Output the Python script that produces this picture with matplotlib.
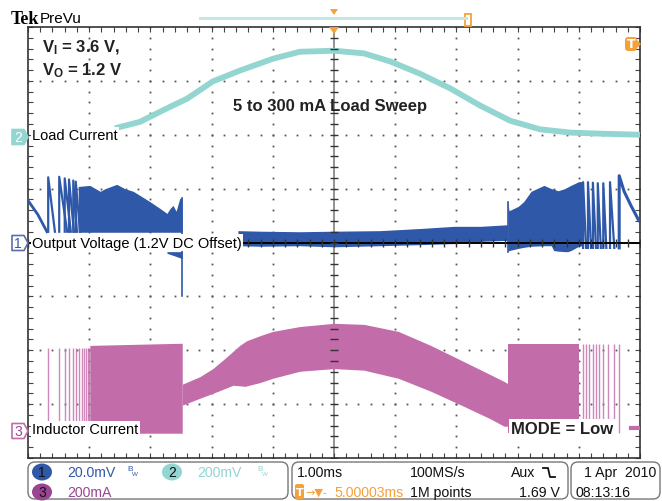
import numpy as np
import matplotlib.pyplot as plt
from matplotlib.patches import FancyBboxPatch, Ellipse, Polygon, Rectangle

plt.rcParams['mathtext.fontset'] = 'custom'
plt.rcParams['mathtext.bf'] = 'Liberation Sans:bold'
plt.rcParams['mathtext.rm'] = 'Liberation Sans'

BLUE = '#2f59a8'
CYAN = '#93d5d1'
PINK = '#c26ca9'
PURPLE = '#9b4492'
ORANGE = '#f5a13a'
SCOPE = ['Liberation Sans', 'DejaVu Sans']

# time in ms (1 ms/div, trigger at centre), levels in divisions
# ch2 - load current
load_t = [-3.58, -3.17, -2.73, -2.40, -1.98, -1.54, -1.00, -0.56, 0.0, 0.49,
          0.92, 1.41, 1.90, 2.39, 2.88, 3.37, 3.86, 4.35, 5.0]
load_y = [2.12, 2.24, 2.49, 2.67, 2.99, 3.19, 3.41, 3.54, 3.56, 3.51,
          3.36, 3.13, 2.86, 2.54, 2.26, 2.10, 2.04, 2.02, 2.00]

# ch1 - output voltage
vo_decay_t = [-5.0, -4.84, -4.69]
vo_decay_y = [0.78, 0.52, 0.20]
vo_teeth_l_start = [-4.67, -4.49, -4.40, -4.33, -4.26, -4.22]
vo_teeth_l_end = [-4.56, -4.36, -4.30, -4.25, -4.20, -4.15]
vo_teeth_l_peak = [1.21, 1.22, 1.19, 1.17, 1.15, 1.13]
vo_burst_l_t = [-4.18, -3.99, -3.82, -3.74, -3.55, -3.42, -3.28, -3.01, -2.84,
                -2.73, -2.68, -2.63, -2.58, -2.52, -2.48]
vo_burst_l_top = [1.04, 1.06, 0.95, 1.00, 1.08, 1.00, 0.95, 0.76, 0.63,
                  0.54, 0.63, 0.69, 0.58, 0.82, 0.83]
vo_burst_l_bot = [0.19] * 15
vo_dip_t = [-2.73, -2.60, -2.48]
vo_dip_top = [-0.17, -0.17, -0.17]
vo_dip_bot = [-0.20, -0.25, -0.30]
vo_mid_t = [-1.57, -1.20, -0.56, 0.0, 0.75, 1.41, 1.96, 2.39, 2.84]
vo_mid_top = [0.22, 0.21, 0.20, 0.21, 0.22, 0.26, 0.30, 0.30, 0.33]
vo_mid_bot = [-0.06, -0.07, -0.06, -0.08, -0.06, -0.04, -0.02, 0.02, 0.04]
vo_burst_r_t = [2.84, 2.86, 3.01, 3.10, 3.22, 3.43, 3.55, 3.59, 3.66, 3.77,
                3.82, 3.87, 4.00, 4.07]
vo_burst_r_top = [0.76, 0.59, 0.67, 0.76, 0.95, 1.06, 1.00, 0.99, 0.96, 1.00,
                  1.03, 1.06, 1.13, 1.13]
vo_burst_r_bot = [-0.17, -0.15, -0.11, -0.09, -0.07, -0.06, -0.06, -0.15, -0.16, -0.17,
                  -0.17, -0.15, -0.07, -0.06]
vo_teeth_r_start = [4.07, 4.15, 4.23, 4.31, 4.40, 4.51]
vo_teeth_r_end = [4.12, 4.20, 4.28, 4.36, 4.45, 4.58]
vo_teeth_r_peak = [1.12, 1.12, 1.11, 1.10, 1.10, 1.12]
vo_tail_t = [4.66, 4.66, 4.74, 4.85, 4.98]
vo_tail_y = [-0.10, 1.24, 0.95, 0.69, 0.41]

# ch3 - inductor current
il_lines_l = [-4.67, -4.49, -4.40, -4.33, -4.26, -4.22, -4.17, -4.12, -4.08, -4.05, -4.02, -4.00]
il_block_l_t = [-3.99, -2.48]
il_block_l_top = [-1.91, -1.87]
il_band_t = [-2.48, -2.19, -1.98, -1.78, -1.65, -1.54, -1.45, -1.42, -1.21, -1.00, -0.56,
             0.0, 0.49, 1.05, 1.58, 2.12, 2.55, 2.78, 2.84]
il_band_top = [-2.63, -2.49, -2.34, -2.15, -2.02, -1.91, -1.84, -1.82, -1.73, -1.65, -1.56,
               -1.50, -1.52, -1.65, -1.91, -2.21, -2.45, -2.58, -2.62]
il_band_bot = [-3.02, -2.89, -2.80, -2.71, -2.65, -2.66, -2.67, -2.66, -2.60, -2.52, -2.39,
               -2.34, -2.37, -2.52, -2.76, -3.04, -3.27, -3.41, -3.41]
il_block_r_t = [2.84, 4.00]
il_block_r_top = [-1.89, -1.89]
il_lines_r = [4.07, 4.12, 4.17, 4.23, 4.28, 4.33, 4.40, 4.48, 4.58, 4.66]
il_floor = -3.54
il_zero_t = [4.85, 4.98]
il_zero_y = [-3.45, -3.45]

fig = plt.figure(figsize=(6.62, 5.02), dpi=100)
ax = fig.add_axes([28 / 662, 1 - 459 / 502, 612 / 662, 431 / 502])
ax.set_xlim(-5, 5)
ax.set_ylim(-4, 4)
ax.set_xticks(np.arange(-5, 6, 1))
ax.set_yticks(np.arange(-4, 5, 1))
ax.set_xticks(np.arange(-5, 5.01, 0.2), minor=True)
ax.set_yticks(np.arange(-4, 4.01, 0.2), minor=True)
ax.tick_params(which='both', direction='in', top=True, right=True,
               labelbottom=False, labelleft=False, length=3.5, width=0.8, color='#444')
for s in ax.spines.values():
    s.set_color('#333')
    s.set_linewidth(1.2)

# graticule dots
minor_x = np.arange(-5, 5.01, 0.2)
minor_y = np.arange(-4, 4.01, 0.2)
for gx in range(-4, 5):
    if gx != 0:
        ax.plot(np.full_like(minor_y, gx), minor_y, ls='none', marker='s', ms=1.3,
                mec='none', color='#555', zorder=1)
for gy in range(-3, 4):
    if gy != 0:
        ax.plot(minor_x, np.full_like(minor_x, gy), ls='none', marker='s', ms=1.3,
                mec='none', color='#555', zorder=1)
ax.axvline(0, color='#8a8a8a', lw=1.3, zorder=1)
ax.plot(np.zeros_like(minor_y), minor_y, ls='none', marker='_', ms=6, color='#333', zorder=5)
ax.axhline(0, color='black', lw=1.4, zorder=4)
ax.plot(minor_x, np.zeros_like(minor_x), ls='none', marker='|', ms=6, color='#333', zorder=5)

# ch2
ax.plot(load_t, load_y, color=CYAN, lw=4.2, solid_capstyle='butt', zorder=3)

# ch1
ax.plot(vo_decay_t, vo_decay_y, color=BLUE, lw=2, zorder=3)
for s, e, p in zip(vo_teeth_l_start, vo_teeth_l_end, vo_teeth_l_peak):
    ax.plot([s, s, e], [0.20, p, 0.20], color=BLUE, lw=1.6, zorder=3)
ax.fill_between(vo_burst_l_t, vo_burst_l_bot, vo_burst_l_top, color=BLUE, lw=0, zorder=3)
ax.fill_between(vo_dip_t, vo_dip_bot, vo_dip_top, color=BLUE, lw=0, zorder=3)
ax.plot([-2.48, -2.48], [0.83, -1.0], color=BLUE, lw=1.2, zorder=3)
ax.fill_between(vo_mid_t, vo_mid_bot, vo_mid_top, color=BLUE, lw=0, zorder=3)
ax.fill_between(vo_burst_r_t, vo_burst_r_bot, vo_burst_r_top, color=BLUE, lw=0, zorder=3)
ax.plot([2.84, 2.84], [-0.17, 0.76], color=BLUE, lw=1.2, zorder=3)
for s, e, p in zip(vo_teeth_r_start, vo_teeth_r_end, vo_teeth_r_peak):
    ax.plot([s, s, e], [-0.10, p, -0.10], color=BLUE, lw=1.6, zorder=3)
ax.plot(vo_tail_t, vo_tail_y, color=BLUE, lw=2.2, zorder=3)

# ch3
ax.vlines(il_lines_l, il_floor, -1.95, color=PINK, lw=1.0, alpha=0.8, zorder=3)
ax.fill_between(il_block_l_t, il_floor, il_block_l_top, color=PINK, lw=0, zorder=3)
ax.fill_between(il_band_t, il_band_bot, il_band_top, color=PINK, lw=0, zorder=3)
ax.fill_between(il_block_r_t, il_floor, il_block_r_top, color=PINK, lw=0, zorder=3)
ax.vlines(il_lines_r, il_floor, -1.89, color=PINK, lw=1.0, alpha=0.8, zorder=3)
ax.plot(il_zero_t, il_zero_y, color=PINK, lw=3, zorder=3)

# trace labels
lab_box = dict(fc='white', ec='none', pad=1.0)
ax.text(-4.93, 1.99, 'Load Current', family=SCOPE, fontsize=10.5, va='center',
        bbox=lab_box, zorder=6)
ax.text(-4.93, 0.0, 'Output Voltage (1.2V DC Offset)', family=SCOPE, fontsize=10.5,
        va='center', bbox=lab_box, zorder=6)
ax.text(-4.93, -3.47, 'Inductor Current', family=SCOPE, fontsize=10.5, va='center',
        bbox=lab_box, zorder=6)
ax.text(2.90, -3.45, 'MODE = Low', fontsize=12, weight='bold', family='Liberation Sans',
        color='#222', va='center', bbox=dict(fc='white', ec='none', pad=1.5), zorder=6)
ax.text(-4.77, 3.63, r'$\mathbf{V_I}$ = 3.6 V,', fontsize=12, weight='bold',
        family='Liberation Sans', color='#222', va='center')
ax.text(-4.77, 3.20, r'$\mathbf{V_O}$ = 1.2 V', fontsize=12, weight='bold',
        family='Liberation Sans', color='#222', va='center')
ax.text(-0.06, 2.55, '5 to 300 mA Load Sweep', fontsize=12, weight='bold',
        family='Liberation Sans', color='#222', ha='center', va='center')

# screen decorations in pixel coordinates
deco = fig.add_axes([0, 0, 1, 1])
deco.set_xlim(0, 662)
deco.set_ylim(502, 0)
deco.axis('off')

deco.text(11, 20, 'Tek', family=['Liberation Serif', 'DejaVu Serif'], weight='bold',
          fontsize=13, va='center')
deco.text(40, 19, 'PreVu', family=SCOPE, fontsize=11, va='center')
deco.plot([200, 466], [19, 19], color='#c4e8e6', lw=2.2)
deco.add_patch(Rectangle((465, 15), 6, 12, fc='white', ec=ORANGE, lw=1.3))
deco.add_patch(Polygon([(330, 10), (338, 10), (334, 16)], fc=ORANGE, ec='none'))
deco.add_patch(Polygon([(329, 28), (339, 28), (334, 35)], fc=ORANGE, ec='none'))
deco.add_patch(FancyBboxPatch((625, 38), 12, 14, boxstyle='round,pad=0,rounding_size=3',
                              fc=ORANGE, ec='none'))
deco.add_patch(Polygon([(637, 41), (641, 45), (637, 49)], fc=ORANGE, ec='none'))
deco.text(631, 45, 'T', color='white', fontsize=9, weight='bold', ha='center', va='center')

# channel markers
def marker(y, num, fc, ec, tc):
    pts = [(12, y - 7.5), (24, y - 7.5), (28, y), (24, y + 7.5), (12, y + 7.5)]
    deco.add_patch(Polygon(pts, fc=fc, ec=ec, lw=1.2, joinstyle='round'))
    deco.text(18, y + 0.5, num, family=SCOPE, fontsize=10, color=tc, ha='center', va='center')

marker(138, '2', CYAN, CYAN, 'white')
marker(244, '1', 'white', '#5d6fa8', BLUE)
marker(432, '3', 'white', PINK, PURPLE)

# bottom readout
for x0, w in [(28, 260), (292, 276), (571, 89)]:
    deco.add_patch(FancyBboxPatch((x0, 463), w, 37, boxstyle='round,pad=0,rounding_size=7',
                                  fc='none', ec='#777', lw=1.0))

for cx, cy, fc, num in [(42, 473, BLUE, '1'), (172, 473, CYAN, '2'), (42, 493, PURPLE, '3')]:
    deco.add_patch(Ellipse((cx, cy), 20, 17, fc=fc, ec='none'))
    deco.text(cx, cy + 0.5, num, family=SCOPE, fontsize=10, color='#111', ha='center', va='center')

rf = dict(family=SCOPE, fontsize=10.2, va='center')
deco.text(67, 473, '20.0mV', color=BLUE, **rf)
deco.text(127, 470, 'B', color=BLUE, family=SCOPE, fontsize=6, va='center')
deco.text(131.5, 475, 'W', color=BLUE, family=SCOPE, fontsize=4.5, va='center')
deco.text(197, 473, '200mV', color=CYAN, **rf)
deco.text(257, 470, 'B', color=CYAN, family=SCOPE, fontsize=6, va='center')
deco.text(261.5, 475, 'W', color=CYAN, family=SCOPE, fontsize=4.5, va='center')
deco.text(67, 493, '200mA', color=PURPLE, **rf)

deco.text(297, 473, '1.00ms', color='#111', **rf)
deco.text(410, 473, '100MS/s', color='#111', **rf)
deco.text(511, 473, 'Aux', color='#111', **rf)
deco.plot([543, 548, 550, 555], [469, 469, 478, 478], color='#111', lw=1.3)
deco.add_patch(FancyBboxPatch((295, 485), 9, 15, boxstyle='round,pad=0,rounding_size=2',
                              fc=ORANGE, ec='none'))
deco.text(299.5, 493, 'T', color='white', fontsize=8, weight='bold', ha='center', va='center')
deco.text(305, 493, '\u2192\u25bc-', color=ORANGE, family=['DejaVu Sans'],
          fontsize=8, va='center')
deco.text(404, 493, '5.00003ms', color=ORANGE, ha='right', family=SCOPE,
          fontsize=10.2, va='center')
deco.text(410, 493, '1M points', color='#111', **rf)
deco.text(560, 493, '1.69 V', color='#111', ha='right', family=SCOPE, fontsize=10.2, va='center')
deco.text(656, 473, '1 Apr  2010', color='#111', ha='right', family=SCOPE, fontsize=10.2, va='center')
deco.text(575, 493, '08:13:16', color='#111', **rf)

fig.savefig('out.png', dpi=100)
